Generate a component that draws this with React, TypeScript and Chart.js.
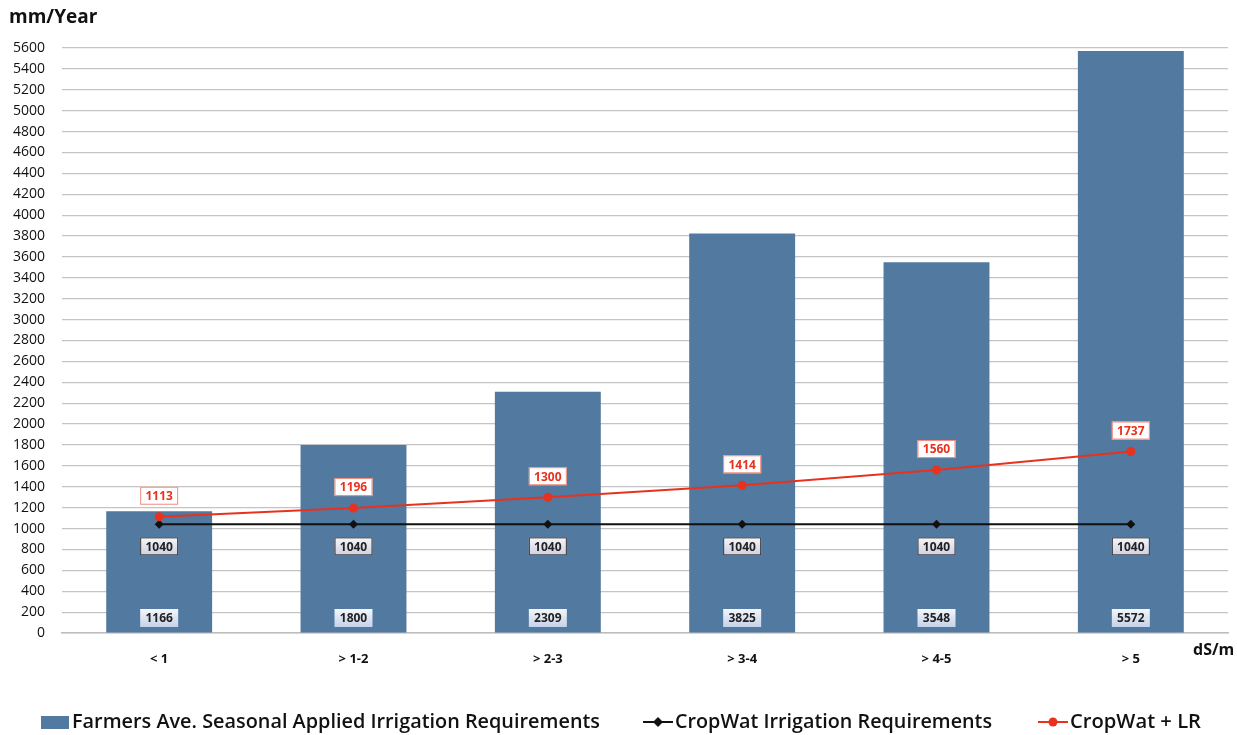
import React, { useEffect, useRef } from "react";
import { Chart, registerables } from "chart.js";

Chart.register(...registerables);

const categories = ["< 1", "> 1-2", "> 2-3", "> 3-4", "> 4-5", "> 5"];
const farmersApplied = [1166, 1800, 2309, 3825, 3548, 5572];
const cropWat = [1040, 1040, 1040, 1040, 1040, 1040];
const cropWatLR = [1113, 1196, 1300, 1414, 1560, 1737];
const yTicks = [0, 200, 400, 600, 800, 1000, 1200, 1400, 1600, 1800, 2000, 2200, 2400, 2600, 2800, 3000, 3200, 3400, 3600, 3800, 4000, 4200, 4400, 4600, 4800, 5000, 5200, 5400, 5600];
const legendLabels = [
  "Farmers Ave. Seasonal Applied Irrigation Requirements",
  "CropWat Irrigation Requirements",
  "CropWat + LR",
];

const BAR = "#52799f";
const RED = "#e8321e";
const BLACK = "#111111";
const FONT = "'Open Sans', 'DejaVu Sans', sans-serif";

// draws text condensed horizontally to a given width
function fitText(ctx: CanvasRenderingContext2D, text: string, x: number, y: number, width: number) {
  const w = ctx.measureText(text).width;
  ctx.save();
  ctx.translate(x, y);
  ctx.scale(width / w, 1);
  ctx.fillText(text, 0, 0);
  ctx.restore();
}

const labelsPlugin = {
  id: "valueLabels",
  afterDatasetsDraw(chart: any) {
    const ctx: CanvasRenderingContext2D = chart.ctx;
    const yScale = chart.scales.y;
    ctx.save();
    ctx.font = `700 12px ${FONT}`;
    ctx.textAlign = "center";
    ctx.textBaseline = "middle";
    const boxW = 38;
    const boxH = 18;

    // bar values, near bottom of each bar
    chart.getDatasetMeta(0).data.forEach((el: any, i: number) => {
      const cx = el.x;
      const cy = yScale.getPixelForValue(0) - 15;
      const g = ctx.createLinearGradient(0, cy - boxH / 2, 0, cy + boxH / 2);
      g.addColorStop(0, "#f4f6fb");
      g.addColorStop(1, "#c4d2ea");
      ctx.fillStyle = g;
      ctx.fillRect(cx - boxW / 2, cy - boxH / 2, boxW, boxH);
      ctx.fillStyle = "#222";
      ctx.fillText(String(farmersApplied[i]), cx, cy + 1);
    });

    // CropWat values, below the black line
    chart.getDatasetMeta(1).data.forEach((el: any, i: number) => {
      const cx = el.x;
      const cy = el.y + 22;
      const g = ctx.createLinearGradient(0, cy - boxH / 2, 0, cy + boxH / 2);
      g.addColorStop(0, "#f6f6fa");
      g.addColorStop(1, "#cfd0e2");
      ctx.fillStyle = g;
      ctx.fillRect(cx - boxW / 2, cy - boxH / 2, boxW, boxH);
      ctx.strokeStyle = "#333";
      ctx.lineWidth = 1;
      ctx.strokeRect(cx - boxW / 2 + 0.5, cy - boxH / 2 + 0.5, boxW - 1, boxH - 1);
      ctx.fillStyle = "#222";
      ctx.fillText(String(cropWat[i]), cx, cy + 1);
    });

    // CropWat + LR values, above the red line
    chart.getDatasetMeta(2).data.forEach((el: any, i: number) => {
      const cx = el.x;
      const cy = el.y - 21;
      ctx.fillStyle = "#ffffff";
      ctx.fillRect(cx - boxW / 2, cy - boxH / 2, boxW, boxH);
      ctx.strokeStyle = "#ef8a7c";
      ctx.lineWidth = 1;
      ctx.strokeRect(cx - boxW / 2 + 0.5, cy - boxH / 2 + 0.5, boxW - 1, boxH - 1);
      ctx.fillStyle = RED;
      ctx.fillText(String(cropWatLR[i]), cx, cy + 1);
    });

    // axis titles
    ctx.fillStyle = "#111";
    ctx.textAlign = "left";
    ctx.font = `700 19px ${FONT}`;
    ctx.fillText("mm/Year", 9, 18);
    ctx.font = `700 16px ${FONT}`;
    ctx.fillText("dS/m", 1193, 650);

    // legend
    const ly = 722;
    ctx.font = `600 20px ${FONT}`;
    ctx.textBaseline = "middle";
    ctx.fillStyle = BAR;
    ctx.fillRect(41, ly - 6, 28, 13);
    ctx.fillStyle = "#111";
    fitText(ctx, legendLabels[0], 72, ly, 528);

    let x = 643;
    ctx.strokeStyle = BLACK;
    ctx.lineWidth = 2;
    ctx.beginPath();
    ctx.moveTo(x, ly);
    ctx.lineTo(x + 30, ly);
    ctx.stroke();
    ctx.fillStyle = BLACK;
    ctx.beginPath();
    ctx.moveTo(x + 15, ly - 5);
    ctx.lineTo(x + 20, ly);
    ctx.lineTo(x + 15, ly + 5);
    ctx.lineTo(x + 10, ly);
    ctx.closePath();
    ctx.fill();
    ctx.fillStyle = "#111";
    fitText(ctx, legendLabels[1], 675, ly, 317);

    x = 1038;
    ctx.strokeStyle = RED;
    ctx.beginPath();
    ctx.moveTo(x, ly);
    ctx.lineTo(x + 30, ly);
    ctx.stroke();
    ctx.fillStyle = RED;
    ctx.beginPath();
    ctx.arc(x + 15, ly, 4.5, 0, Math.PI * 2);
    ctx.fill();
    ctx.fillStyle = "#111";
    fitText(ctx, legendLabels[2], 1070, ly, 131);

    ctx.restore();
  },
};

export default function App() {
  const ref = useRef<HTMLCanvasElement>(null);

  useEffect(() => {
    if (!ref.current) return;
    const chart = new Chart(ref.current, {
      type: "bar",
      data: {
        labels: categories,
        datasets: [
          {
            type: "bar",
            label: legendLabels[0],
            data: farmersApplied,
            backgroundColor: BAR,
            categoryPercentage: 1,
            barPercentage: 0.545,
            order: 3,
          },
          {
            type: "line",
            label: legendLabels[1],
            data: cropWat,
            borderColor: BLACK,
            backgroundColor: BLACK,
            borderWidth: 2,
            pointStyle: "rectRot",
            pointRadius: 4.5,
            pointBackgroundColor: BLACK,
            pointBorderWidth: 0,
            order: 2,
          },
          {
            type: "line",
            label: legendLabels[2],
            data: cropWatLR,
            borderColor: RED,
            backgroundColor: RED,
            borderWidth: 2,
            pointStyle: "circle",
            pointRadius: 4.5,
            pointBackgroundColor: RED,
            pointBorderWidth: 0,
            order: 1,
          },
        ],
      },
      options: {
        animation: false,
        responsive: false,
        layout: { padding: { top: 48, right: 9, left: 0, bottom: 0 } },
        plugins: {
          legend: { display: false },
          tooltip: { enabled: false },
        },
        scales: {
          x: {
            grid: { display: false, drawTicks: false },
            border: { display: true, color: "#bdbdbd", width: 1.5 },
            ticks: {
              color: "#111",
              font: { family: FONT, size: 13, weight: "bold" },
              padding: 18,
            },
            afterFit(scale: any) {
              scale.height = 102;
            },
          },
          y: {
            min: 0,
            max: 5600,
            afterBuildTicks(scale: any) {
              scale.ticks = yTicks.map((v) => ({ value: v }));
            },
            grid: { color: "#c4c4c4", lineWidth: 1.2, drawTicks: false },
            border: { display: false },
            ticks: {
              color: "#111",
              font: { family: FONT, size: 14 },
              padding: 17,
              callback: (v: any) => String(v),
            },
            afterFit(scale: any) {
              scale.width = 62;
            },
          },
        },
      },
      plugins: [labelsPlugin],
    });
    return () => chart.destroy();
  }, []);

  return (
    <div style={{ position: "absolute", left: 0, top: 0, width: 1237, height: 735, background: "#fff" }}>
      <canvas ref={ref} width={1237} height={735} style={{ width: 1237, height: 735, display: "block" }} />
    </div>
  );
}
